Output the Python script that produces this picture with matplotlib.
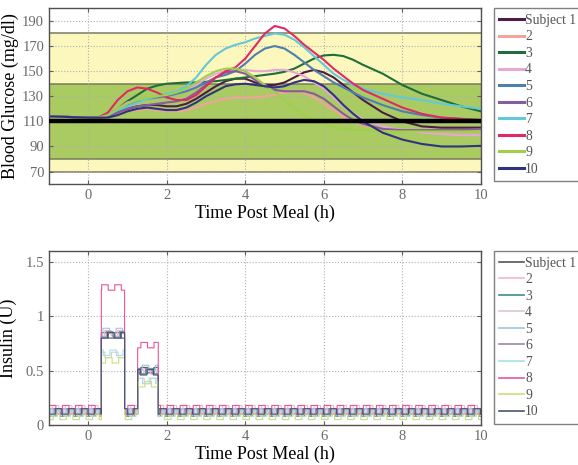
import numpy as np
import matplotlib
matplotlib.use('Agg')
import matplotlib.pyplot as plt

plt.rcParams['font.family'] = ['Liberation Serif', 'DejaVu Serif']

# glucose traces (mg/dl) sampled at these times (h)
t_glu = [-1, -0.5, 0, 0.25, 0.5, 0.75, 1, 1.25, 1.5, 1.75, 2, 2.25, 2.5, 2.75, 3,
         3.25, 3.5, 3.75, 4, 4.25, 4.5, 4.75, 5, 5.25, 5.5, 5.75, 6, 6.25, 6.5,
         6.75, 7, 7.5, 8, 8.5, 9, 9.5, 10]

glu_s1 = [114, 113.5, 113, 113, 114, 117, 120, 122, 123, 123, 122, 122, 124, 128, 133,
          138, 142, 144, 144, 141, 139, 139, 141, 145, 149, 151, 149, 145, 139,
          133, 127, 117, 110, 106, 105, 105, 105]
glu_s2 = [114, 113.5, 113, 113, 114, 116, 118, 119, 120, 119, 118, 118, 119, 121, 124,
          126, 128, 129, 129, 129, 130, 131, 133, 134, 133, 129, 124, 119, 114,
          110, 107, 104, 103, 102.5, 102, 102, 102]
glu_s3 = [114, 113.5, 113, 113, 115, 120, 126, 131, 136, 138.5, 140, 140.5, 141, 141, 141.5,
          142, 143, 144, 145, 146, 147, 148, 149.5, 152, 156, 160, 162.5, 163, 162,
          159, 155, 148, 139, 132, 127, 122, 118]
glu_s4 = [114, 113.5, 113, 113, 115, 120, 125, 127, 128, 129, 130, 132, 135, 139, 144,
          148, 150, 151, 151, 150, 150, 151, 151, 149, 146, 141, 136, 129, 122,
          116, 112, 106, 103, 101, 100, 99, 99]
glu_s5 = [114, 113.5, 113, 113, 115, 119, 123, 126, 128, 129, 130, 132, 134, 137, 141,
          145, 147, 150, 156, 163, 168, 170, 168, 163, 157, 151, 146, 141, 137,
          133, 129, 123, 118, 115, 113, 112, 111]
glu_s6 = [114, 113.5, 113, 113, 114, 117, 120, 122, 123, 124, 125, 126, 128, 133, 139,
          145, 149, 150, 148, 143, 138, 135, 134, 134, 134, 132, 128, 122, 116,
          111, 108, 104, 103, 103, 103, 103, 104]
glu_s7 = [114, 113.5, 113, 113, 115, 119, 122, 125, 128, 130, 132, 134, 138, 145, 155,
          163, 168, 171, 173, 176, 178, 180, 179, 175, 169, 162, 155, 148, 143,
          139, 136, 132, 129, 127, 124, 122, 120]
glu_s8 = [114, 113.5, 113, 113, 117, 127, 134, 137, 136, 133, 129, 127, 127, 131, 138,
          145, 150, 153, 160, 170, 180, 186, 184, 178, 171, 165, 159, 152, 146,
          140, 135, 128, 121, 116, 113, 112, 111]
glu_s9 = [114, 113.5, 113, 113, 115, 120, 124, 127, 129, 130, 131, 133, 136, 141, 146,
          150, 152, 152, 150, 145, 139, 133, 127, 120, 115, 111, 108, 105, 104,
          103, 103, 102, 102, 102, 102, 102, 102]
glu_s10 = [114, 113.5, 113, 113, 113, 115, 118, 120, 121, 120, 119, 119, 121, 125, 130,
           134, 138, 139.5, 140, 139, 138, 137, 138, 141, 143, 142, 138, 131, 123,
           116, 110, 101, 95.5, 92, 90, 90, 90.5]
glucose = [glu_s1, glu_s2, glu_s3, glu_s4, glu_s5, glu_s6, glu_s7, glu_s8, glu_s9, glu_s10]

labels = ['Subject 1', '2', '3', '4', '5', '6', '7', '8', '9', '10']
glu_colors = ['#4b1d48', '#f2a39c', '#1f6e3a', '#e6a9d6', '#4d7fb0',
              '#8a5a9e', '#63c9d9', '#e02a66', '#9fd04a', '#2f3380']
ins_colors = ['#555555', '#f4b8c4', '#3a8f88', '#d8c8d8', '#9cc4e4',
              '#9a88a8', '#a8e0ea', '#e8559a', '#c8e07a', '#4a5478']

# target ranges and setpoint
outer_band = (70, 180)
inner_band = (80, 140)
setpoint = 110

# insulin delivery (U): basal level, basal pulse size, two meal boluses
ins_basal = [0.10, 0.10, 0.08, 0.10, 0.10, 0.08, 0.08, 0.10, 0.05, 0.10]
ins_pulse = [0.05, 0.08, 0.05, 0.05, 0.05, 0.07, 0.05, 0.08, 0.05, 0.05]
ins_bolus1 = [0.80, 0.82, 0.80, 0.62, 0.84, 0.81, 0.64, 1.24, 0.57, 0.80]
ins_bolus2 = [0.48, 0.47, 0.47, 0.38, 0.50, 0.47, 0.38, 0.71, 0.35, 0.46]
bolus_start = [0.33, 1.25]
bolus_end = [0.92, 1.78]
pulse_period = 1 / 3
pulse_phase = [0.0, 0.08, 0.17, 0.25, 0.04, 0.12, 0.21, 0.0, 0.10, 0.15]

fig = plt.figure(figsize=(5.78, 4.65), dpi=100)
ax1 = fig.add_axes([0.0848, 0.604, 0.747, 0.378])
ax2 = fig.add_axes([0.0848, 0.086, 0.747, 0.374])

tick_gray = '#6a6a6a'


def style_axes(ax):
    ax.set_xlim(-1, 10)
    ax.set_xticks([0, 2, 4, 6, 8, 10])
    ax.grid(True, color='#b0b0b0', linestyle=':', linewidth=0.8)
    ax.set_axisbelow(True)
    ax.tick_params(direction='in', top=True, right=True, length=3,
                   color='#606060', labelcolor=tick_gray, labelsize=10.5)
    for sp in ax.spines.values():
        sp.set_color('#505050')
        sp.set_linewidth(1.0)
    ax.set_xlabel('Time Post Meal (h)', fontsize=13, labelpad=2)


# glucose panel
ax1.axhspan(*outer_band, color='#fcf7bd', zorder=0.1, lw=0)
ax1.axhspan(*inner_band, color='#a9cb62', zorder=0.2, lw=0)
for lvl in list(outer_band) + list(inner_band):
    ax1.axhline(lvl, color='#7a7a60', lw=1.1, zorder=0.3)
for vals, c, lab in zip(glucose, glu_colors, labels):
    ax1.plot(t_glu, vals, color=c, lw=1.5, label=lab, zorder=2)
ax1.axhline(setpoint, color='black', lw=3.2, zorder=3)
ax1.set_ylim(60, 200)
ax1.set_yticks([70, 90, 110, 130, 150, 170, 190])
style_axes(ax1)
ax1.set_ylabel('Blood Glucose (mg/dl)', fontsize=13, labelpad=2)

# insulin panel
t_ins = np.arange(-1, 10.0001, 1 / 120)
for i in range(10):
    level = np.full_like(t_ins, ins_basal[i])
    level[(t_ins >= bolus_start[0]) & (t_ins < bolus_end[0])] = ins_bolus1[i]
    level[(t_ins >= bolus_start[1]) & (t_ins < bolus_end[1])] = ins_bolus2[i]
    phase = ((t_ins + 1 - pulse_phase[i]) % pulse_period) / pulse_period
    on = phase < 0.5
    in_bolus = level > ins_basal[i]
    level = level + np.where(on, np.where(in_bolus, 0.05, ins_pulse[i]), 0)
    ax2.step(t_ins, level, where='post', color=ins_colors[i], lw=0.8,
             label=labels[i])
ax2.set_ylim(0, 1.6)
ax2.set_yticks([0, 0.5, 1, 1.5])
ax2.set_yticklabels(['0', '0.5', '1', '1.5'])
style_axes(ax2)
ax2.set_ylabel('Insulin (U)', fontsize=13, labelpad=6)

for ax, lw in [(ax1, 2.2), (ax2, 1.2)]:
    leg = ax.legend(loc='upper left', bbox_to_anchor=(1.03, 1.0), borderaxespad=0,
                    fontsize=9.8, labelspacing=0.26, handlelength=1.8,
                    handletextpad=0.1, borderpad=0.4, fancybox=False,
                    edgecolor='#808080', framealpha=1)
    for h in leg.get_lines():
        h.set_linewidth(lw)
    for txt in leg.get_texts():
        txt.set_color('#555555')

fig.savefig('out.png', dpi=100)
